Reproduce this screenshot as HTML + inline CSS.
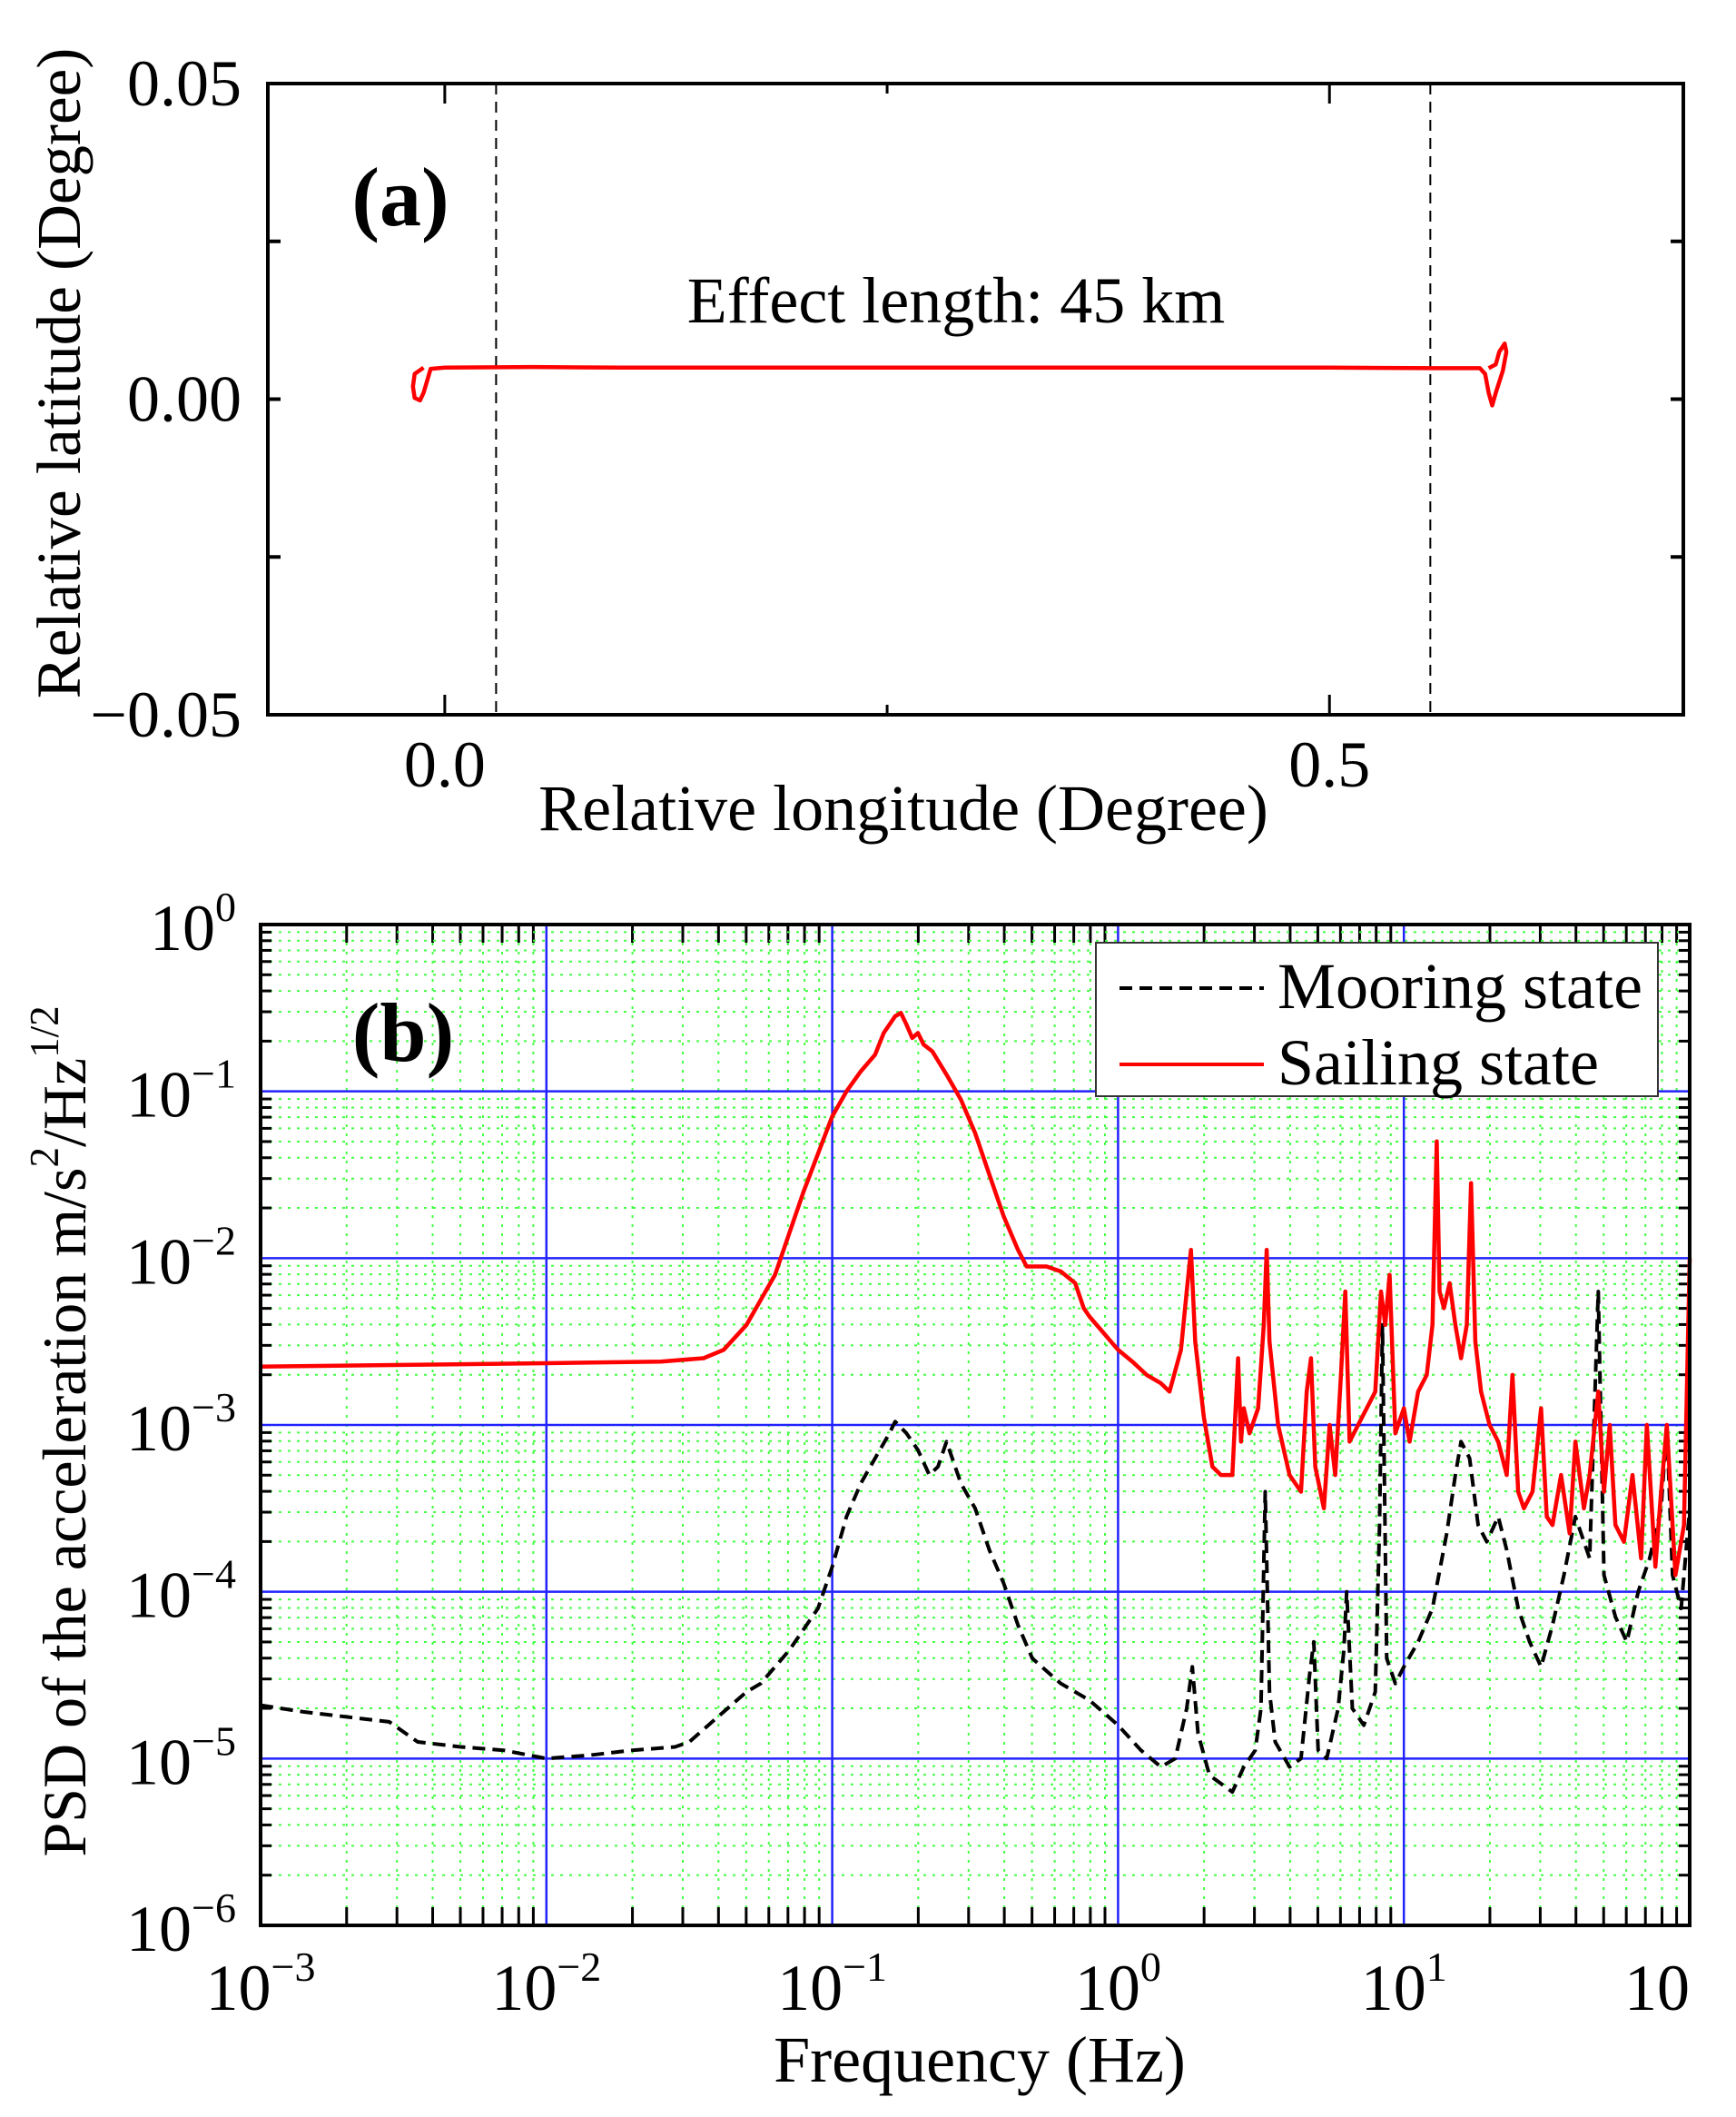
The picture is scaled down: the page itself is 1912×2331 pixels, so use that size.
<!DOCTYPE html>
<html><head><meta charset="utf-8"><style>
html,body{margin:0;padding:0;background:#fff;}
svg{display:block;font-family:"Liberation Serif",serif;}
</style></head><body>
<svg id="fig" width="1912" height="2331" viewBox="0 0 1912 2331" xmlns="http://www.w3.org/2000/svg">
<g id="pa"></g>
<g id="pb"></g>
</svg>
<script>
// ---------- Panel A data ----------
const trackLon = [-0.012,-0.017,-0.018,-0.017,-0.014,-0.012,-0.008,0.0,0.05,0.1,0.2,0.3,0.4,0.5,0.56,0.575,0.585,0.588,0.59,0.592,0.594,0.598,0.600,0.599,0.596,0.594,0.59];
const trackLat = [0.0050,0.0040,0.0020,0.0002,-0.0002,0.0010,0.0048,0.0050,0.0051,0.0050,0.0050,0.0050,0.0050,0.0050,0.0049,0.0049,0.0049,0.0040,0.0010,-0.0010,0.0010,0.0045,0.0075,0.0088,0.0075,0.0055,0.0049];
const dashLon = [0.029,0.557];
const aXTicks = [0.0,0.5];
const aXTickLabels = ["0.0","0.5"];
const aXMinor = [0.25];
const aYTicks = [0.05,0.0,-0.05];
const aYTickLabels = ["0.05","0.00","\u22120.05"];
const aYMinor = [0.025,-0.025];

// ---------- Panel B data (log10 frequency, log10 PSD) ----------
const sailLogF = [-3,-2.5,-2,-1.6,-1.45,-1.38,-1.3,-1.2,-1.1,-1.0,-0.95,-0.9,-0.85,-0.82,-0.78,-0.76,-0.74,-0.72,-0.7,-0.68,-0.65,-0.6,-0.55,-0.5,-0.45,-0.4,-0.35,-0.32,-0.3,-0.25,-0.2,-0.15,-0.12,-0.1,-0.05,0,0.05,0.1,0.15,0.18,0.22,0.24,0.255,0.27,0.3,0.33,0.36,0.4,0.42,0.43,0.44,0.46,0.49,0.51,0.52,0.53,0.56,0.6,0.64,0.66,0.675,0.69,0.72,0.74,0.76,0.78,0.795,0.81,0.84,0.87,0.9,0.92,0.935,0.95,0.97,1.0,1.02,1.05,1.08,1.1,1.115,1.125,1.14,1.16,1.18,1.2,1.22,1.235,1.25,1.27,1.3,1.33,1.36,1.38,1.40,1.42,1.45,1.48,1.5,1.52,1.55,1.58,1.6,1.63,1.65,1.68,1.7,1.72,1.74,1.77,1.8,1.83,1.85,1.88,1.9,1.92,1.95,1.98,2.0];
const sailLogP = [-2.65,-2.64,-2.63,-2.62,-2.6,-2.55,-2.4,-2.1,-1.6,-1.15,-1.0,-0.88,-0.78,-0.65,-0.55,-0.53,-0.6,-0.68,-0.65,-0.72,-0.76,-0.9,-1.05,-1.25,-1.5,-1.75,-1.95,-2.05,-2.05,-2.05,-2.08,-2.15,-2.3,-2.35,-2.45,-2.55,-2.62,-2.7,-2.75,-2.8,-2.55,-2.2,-1.95,-2.5,-2.95,-3.25,-3.3,-3.3,-2.6,-3.1,-2.9,-3.05,-2.9,-2.4,-1.95,-2.5,-3.0,-3.3,-3.4,-2.8,-2.6,-3.25,-3.5,-3.0,-3.3,-2.7,-2.2,-3.1,-3.0,-2.9,-2.8,-2.2,-2.4,-2.1,-3.05,-2.9,-3.1,-2.8,-2.7,-2.4,-1.3,-2.2,-2.3,-2.15,-2.4,-2.6,-2.4,-1.55,-2.5,-2.8,-3.0,-3.1,-3.3,-2.7,-3.4,-3.5,-3.4,-2.9,-3.55,-3.6,-3.3,-3.65,-3.1,-3.5,-3.3,-2.8,-3.4,-3.0,-3.6,-3.7,-3.3,-3.8,-3.0,-3.85,-3.4,-3.0,-3.9,-3.6,-2.0];
const moorLogF = [-3,-2.85,-2.7,-2.55,-2.45,-2.3,-2.15,-2.0,-1.85,-1.7,-1.55,-1.5,-1.4,-1.3,-1.25,-1.15,-1.05,-1.0,-0.95,-0.9,-0.85,-0.8,-0.78,-0.74,-0.7,-0.66,-0.63,-0.6,-0.55,-0.5,-0.45,-0.4,-0.35,-0.3,-0.2,-0.1,0,0.08,0.15,0.2,0.24,0.26,0.28,0.32,0.36,0.4,0.44,0.48,0.5,0.515,0.53,0.55,0.6,0.64,0.67,0.685,0.7,0.73,0.77,0.79,0.80,0.82,0.86,0.9,0.915,0.925,0.94,0.97,1.0,1.05,1.1,1.15,1.18,1.2,1.23,1.26,1.29,1.33,1.36,1.4,1.44,1.48,1.52,1.56,1.6,1.65,1.68,1.7,1.74,1.78,1.82,1.86,1.9,1.92,1.94,1.97,2.0];
const moorLogP = [-4.68,-4.72,-4.75,-4.78,-4.9,-4.93,-4.95,-5.0,-4.98,-4.95,-4.93,-4.9,-4.75,-4.6,-4.55,-4.35,-4.1,-3.85,-3.55,-3.35,-3.2,-3.05,-2.98,-3.05,-3.15,-3.3,-3.25,-3.1,-3.35,-3.5,-3.75,-3.95,-4.2,-4.4,-4.55,-4.65,-4.8,-4.95,-5.05,-5.0,-4.7,-4.45,-4.85,-5.1,-5.15,-5.2,-5.05,-4.95,-4.7,-3.4,-4.6,-4.9,-5.05,-5.0,-4.5,-4.3,-4.95,-5.0,-4.7,-4.35,-4.0,-4.7,-4.8,-4.6,-3.6,-2.4,-4.4,-4.55,-4.45,-4.3,-4.1,-3.65,-3.3,-3.1,-3.2,-3.6,-3.7,-3.55,-3.75,-4.1,-4.3,-4.45,-4.2,-3.9,-3.55,-3.8,-2.2,-3.9,-4.15,-4.3,-4.0,-3.8,-3.5,-3.0,-3.9,-4.1,-3.5];
const bXTickExp = ["\u22123","\u22122","\u22121","0","1",""];
const bYTickExp = ["0","\u22121","\u22122","\u22123","\u22124","\u22125","\u22126"];

const NS = "http://www.w3.org/2000/svg";
function mk(tag, attrs, parent){const e=document.createElementNS(NS,tag);for(const k in attrs)e.setAttribute(k,attrs[k]);parent.appendChild(e);return e;}

// ---------- Panel A ----------
(function(){
  const g=document.getElementById('pa');
  const L=295,R=1854,T=92,B=787;
  const x=v=>L+(v+0.1)/0.8*(R-L);
  const y=v=>T+(0.05-v)/0.1*(B-T);
  dashLon.forEach((d,i)=>{
    const l=mk('line',{x1:x(d),x2:x(d),y1:T,y2:B,stroke:'#000','stroke-width':2,'stroke-dasharray':'12 8'},g);
    
    
  });
  let d='';trackLon.forEach((v,i)=>{d+=(i?'L':'M')+x(v).toFixed(1)+' '+y(trackLat[i]).toFixed(1);});
  const p=mk('path',{d:d,fill:'none',stroke:'#f00','stroke-width':4.5,'stroke-linejoin':'round'},g);
  
  
  const fr=mk('rect',{x:L,y:T,width:R-L,height:B-T,fill:'none',stroke:'#000','stroke-width':4},g);
  
  
  aXTicks.forEach(v=>{
    mk('line',{x1:x(v),x2:x(v),y1:B,y2:B-22,stroke:'#000','stroke-width':3},g);
    mk('line',{x1:x(v),x2:x(v),y1:T,y2:T+22,stroke:'#000','stroke-width':3},g);
  });
  aXMinor.forEach(v=>{
    mk('line',{x1:x(v),x2:x(v),y1:B,y2:B-11,stroke:'#000','stroke-width':3},g);
    mk('line',{x1:x(v),x2:x(v),y1:T,y2:T+11,stroke:'#000','stroke-width':3},g);
  });
  aYTicks.concat(aYMinor).forEach(v=>{
    mk('line',{x1:L,x2:L+14,y1:y(v),y2:y(v),stroke:'#000','stroke-width':4},g);
    mk('line',{x1:R,x2:R-14,y1:y(v),y2:y(v),stroke:'#000','stroke-width':4},g);
  });
  aXTicks.forEach((v,i)=>{
    const t=mk('text',{x:x(v),y:866,'font-size':72,'text-anchor':'middle'},g);t.textContent=aXTickLabels[i];
    
    
  });
  aYTicks.forEach((v,i)=>{
    const t=mk('text',{x:266,y:y(v)+24,'font-size':72,'text-anchor':'end'},g);t.textContent=aYTickLabels[i];
    
    
  });
  let t=mk('text',{x:995,y:914,'font-size':72,'text-anchor':'middle'},g);t.textContent='Relative longitude (Degree)';
  
  
  t=mk('text',{x:0,y:0,'font-size':69,'text-anchor':'middle',transform:'translate(88,411) rotate(-90)'},g);t.textContent='Relative latitude (Degree)';
  
  
  t=mk('text',{x:441,y:248,'font-size':92,'font-weight':'bold','text-anchor':'middle'},g);t.textContent='(a)';
  
  
  t=mk('text',{x:1053,y:355,'font-size':72,'text-anchor':'middle'},g);t.textContent='Effect length: 45 km';
  
  
})();

// ---------- Panel B ----------
(function(){
  const g=document.getElementById('pb');
  const L=287,R=1861,T=1018,B=2120;
  const x=lf=>L+(lf+3)/5*(R-L);
  const y=lp=>T+(0-lp)/6*(B-T);
  for(let dec=-3;dec<2;dec++)for(let k=2;k<10;k++){
    const xv=x(dec+Math.log10(k));
    mk('line',{x1:xv,x2:xv,y1:T,y2:B,stroke:'#4f4','stroke-width':2,'stroke-dasharray':'3 7'},g);
    mk('line',{x1:xv,x2:xv,y1:B,y2:B-20,stroke:'#000','stroke-width':3},g);
    mk('line',{x1:xv,x2:xv,y1:T,y2:T+20,stroke:'#000','stroke-width':3},g);
  }
  for(let dec=-6;dec<0;dec++)for(let k=2;k<10;k++){
    const yv=y(dec+Math.log10(k));
    mk('line',{x1:L,x2:R,y1:yv,y2:yv,stroke:'#4f4','stroke-width':2,'stroke-dasharray':'3 7'},g);
    mk('line',{x1:L,x2:L+12,y1:yv,y2:yv,stroke:'#000','stroke-width':3},g);
    mk('line',{x1:R,x2:R-12,y1:yv,y2:yv,stroke:'#000','stroke-width':3},g);
  }
  for(let i=1;i<5;i++){const l=mk('line',{x1:x(-3+i),x2:x(-3+i),y1:T,y2:B,stroke:'#22f','stroke-width':2.5},g);
    
    }
  for(let i=1;i<6;i++){const l=mk('line',{x1:L,x2:R,y1:y(-i),y2:y(-i),stroke:'#22f','stroke-width':2.5},g);
    
    }
  function path(xs,ys){let d='';xs.forEach((v,i)=>{d+=(i?'L':'M')+x(v).toFixed(1)+' '+y(ys[i]).toFixed(1);});return d;}
  const pm=mk('path',{d:path(moorLogF,moorLogP),fill:'none',stroke:'#000','stroke-width':4,'stroke-dasharray':'14 8','stroke-linejoin':'round'},g);
  
  
  const ps=mk('path',{d:path(sailLogF,sailLogP),fill:'none',stroke:'#f00','stroke-width':4.5,'stroke-linejoin':'round'},g);
  
  
  const fr=mk('rect',{x:L,y:T,width:R-L,height:B-T,fill:'none',stroke:'#000','stroke-width':4},g);
  
  
  bXTickExp.forEach((e,i)=>{
    const t=mk('text',{x:x(-3+i)+(i==5?-36:0),y:2213,'font-size':72,'text-anchor':'middle'},g);
    t.textContent='10';
    if(e){const s=mk('tspan',{'font-size':46,dy:-32},t);s.textContent=e;}
    
    
  });
  bYTickExp.forEach((e,i)=>{
    const t=mk('text',{x:260,y:y(-i)+28,'font-size':72,'text-anchor':'end'},g);
    t.textContent='10';
    const s=mk('tspan',{'font-size':46,dy:-32},t);s.textContent=e;
    
    
  });
  let t=mk('text',{x:1079,y:2292,'font-size':72,'text-anchor':'middle'},g);t.textContent='Frequency (Hz)';
  
  
  t=mk('text',{x:0,y:0,'font-size':68,'text-anchor':'middle',transform:'translate(94,1576) rotate(-90)'},g);
  t.appendChild(document.createTextNode('PSD of the acceleration m/s'));
  let s=mk('tspan',{'font-size':45,dy:-30},t);s.textContent='2';
  s=mk('tspan',{dy:30},t);s.textContent='/Hz';
  s=mk('tspan',{'font-size':45,dy:-30},t);s.textContent='1/2';
  
  
  t=mk('text',{x:444,y:1168,'font-size':92,'font-weight':'bold','text-anchor':'middle'},g);t.textContent='(b)';
  
  
  const lg=mk('g',{},g);
  
  
  mk('rect',{x:1207,y:1038,width:619,height:169,fill:'#fff',stroke:'#333','stroke-width':2},lg);
  mk('line',{x1:1233,x2:1392,y1:1088,y2:1088,stroke:'#000','stroke-width':4,'stroke-dasharray':'14 8'},lg);
  mk('line',{x1:1233,x2:1392,y1:1172,y2:1172,stroke:'#f00','stroke-width':4},lg);
  t=mk('text',{x:1407,y:1110,'font-size':72},lg);t.textContent='Mooring state';
  
  
  t=mk('text',{x:1407,y:1194,'font-size':72},lg);t.textContent='Sailing state';
  
  
})();
</script>
</body></html>
